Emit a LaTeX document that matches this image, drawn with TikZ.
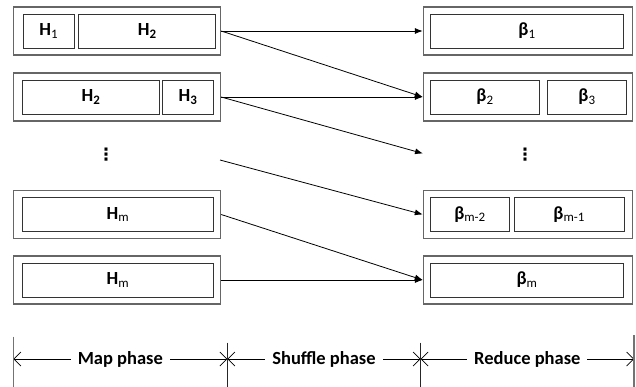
\documentclass[tikz,border=0pt]{standalone}
\usepackage{fontspec}
\setmainfont{Carlito}
\newfontfamily\symfont{DejaVu Sans}
\usetikzlibrary{arrows.meta}
\newcommand{\hb}[2]{\textbf{#1}\textsubscript{#2}}
\newcommand{\hbb}[2]{\textbf{#1\textsubscript{#2}}}
\newcommand{\vdotsb}{{\symfont\bfseries\fontsize{17}{17}\selectfont ⋮}}

\begin{document}
\begin{tikzpicture}[x=1pt,y=-1pt,
    every node/.style={font=\fontsize{18.5}{22}\selectfont},
    outer/.style={draw=black!60,line width=1.4pt,minimum height=48pt,inner sep=0pt},
    cell/.style={draw=black!80,line width=0.8pt,minimum height=34pt,inner sep=0pt},
    flow/.style={-{Latex[length=8pt,width=6pt]},line width=0.8pt},
    span/.style={{Straight Barb[length=7pt,width=14pt]}-{Straight Barb[length=7pt,width=14pt]},line width=0.7pt},
    phase/.style={fill=white,inner xsep=7pt,font=\fontsize{18.5}{22}\selectfont\bfseries},
    endtick/.style={draw=black!55,line width=1.6pt},
    midtick/.style={draw=black!85,line width=0.8pt}]
  \useasboundingbox (0,0) rectangle (636,386);
  % map side
  \node[outer,minimum width=207pt] (m1) at (117,31) {};
  \node[cell,minimum width=51pt] (m1a) at (48.7,31) {\hb{H}{1}};
  \node[cell,minimum width=137pt] (m1b) at (147.3,31) {\hbb{H}{2}};
  \node[outer,minimum width=207pt] (m2) at (117,97) {};
  \node[cell,minimum width=137pt] (m2a) at (91,97) {\hbb{H}{2}};
  \node[cell,minimum width=51pt] (m2b) at (188,97) {\hbb{H}{3}};
  \node (ldots) at (106,155) {\vdotsb};
  \node[outer,minimum width=207pt] (m3) at (117,214.5) {};
  \node[cell,minimum width=191pt] (m3a) at (118,214.5) {\hb{H}{m}};
  \node[outer,minimum width=207pt] (m4) at (117,280) {};
  \node[cell,minimum width=191pt] (m4a) at (118,280) {\hb{H}{m}};
  % reduce side
  \node[outer,minimum width=209pt] (r1) at (528,31) {};
  \node[cell,minimum width=193pt] (r1a) at (527,31) {\hb{β}{1}};
  \node[outer,minimum width=209pt] (r2) at (528,97) {};
  \node[cell,minimum width=109pt] (r2a) at (485,97) {\hb{β}{2}};
  \node[cell,minimum width=79pt] (r2b) at (587,97) {\hb{β}{3}};
  \node (rdots) at (525,155) {\vdotsb};
  \node[outer,minimum width=209pt] (r3) at (528,214.5) {};
  \node[cell,minimum width=79pt] (r3a) at (470,214.5) {\hb{β}{m-2}};
  \node[cell,minimum width=110pt] (r3b) at (569.2,214.5) {\hb{β}{m-1}};
  \node[outer,minimum width=209pt] (r4) at (528,280) {};
  \node[cell,minimum width=193pt] (r4a) at (527,280) {\hb{β}{m}};
  % shuffle
  \coordinate (lfree) at (220,160);
  \coordinate (rfree) at (423,153.5);
  \draw[flow] (m1.east) -- (r1.west);
  \draw[flow] (m1.east) -- (r2.west);
  \draw[flow] (m2.east) -- (r2.west);
  \draw[flow] (m2.east) -- (rfree);
  \draw[flow] (lfree) -- (r3.west);
  \draw[flow] (m3.east) -- (r4.west);
  \draw[flow] (m4.east) -- (r4.west);
  % phases
  \coordinate (p0) at (13.3,359);
  \coordinate (p1) at (227.3,359);
  \coordinate (p2) at (420.7,359);
  \coordinate (p3) at (634,359);
  \draw[span] (p0) -- node[phase] {Map phase} (p1);
  \draw[span] (p1) -- node[phase] {Shuffle phase} (p2);
  \draw[span] (p2) -- node[phase] {Reduce phase} (p3);
  \draw[endtick] (p0) ++(0,-22.5) -- ++(0,50);
  \draw[midtick] (p1) ++(0,-16.5) -- ++(0,44);
  \draw[midtick] (p2) ++(0,-16.5) -- ++(0,44);
  \draw[endtick] (p3) ++(0,-24) -- ++(0,52);
\end{tikzpicture}
\end{document}
